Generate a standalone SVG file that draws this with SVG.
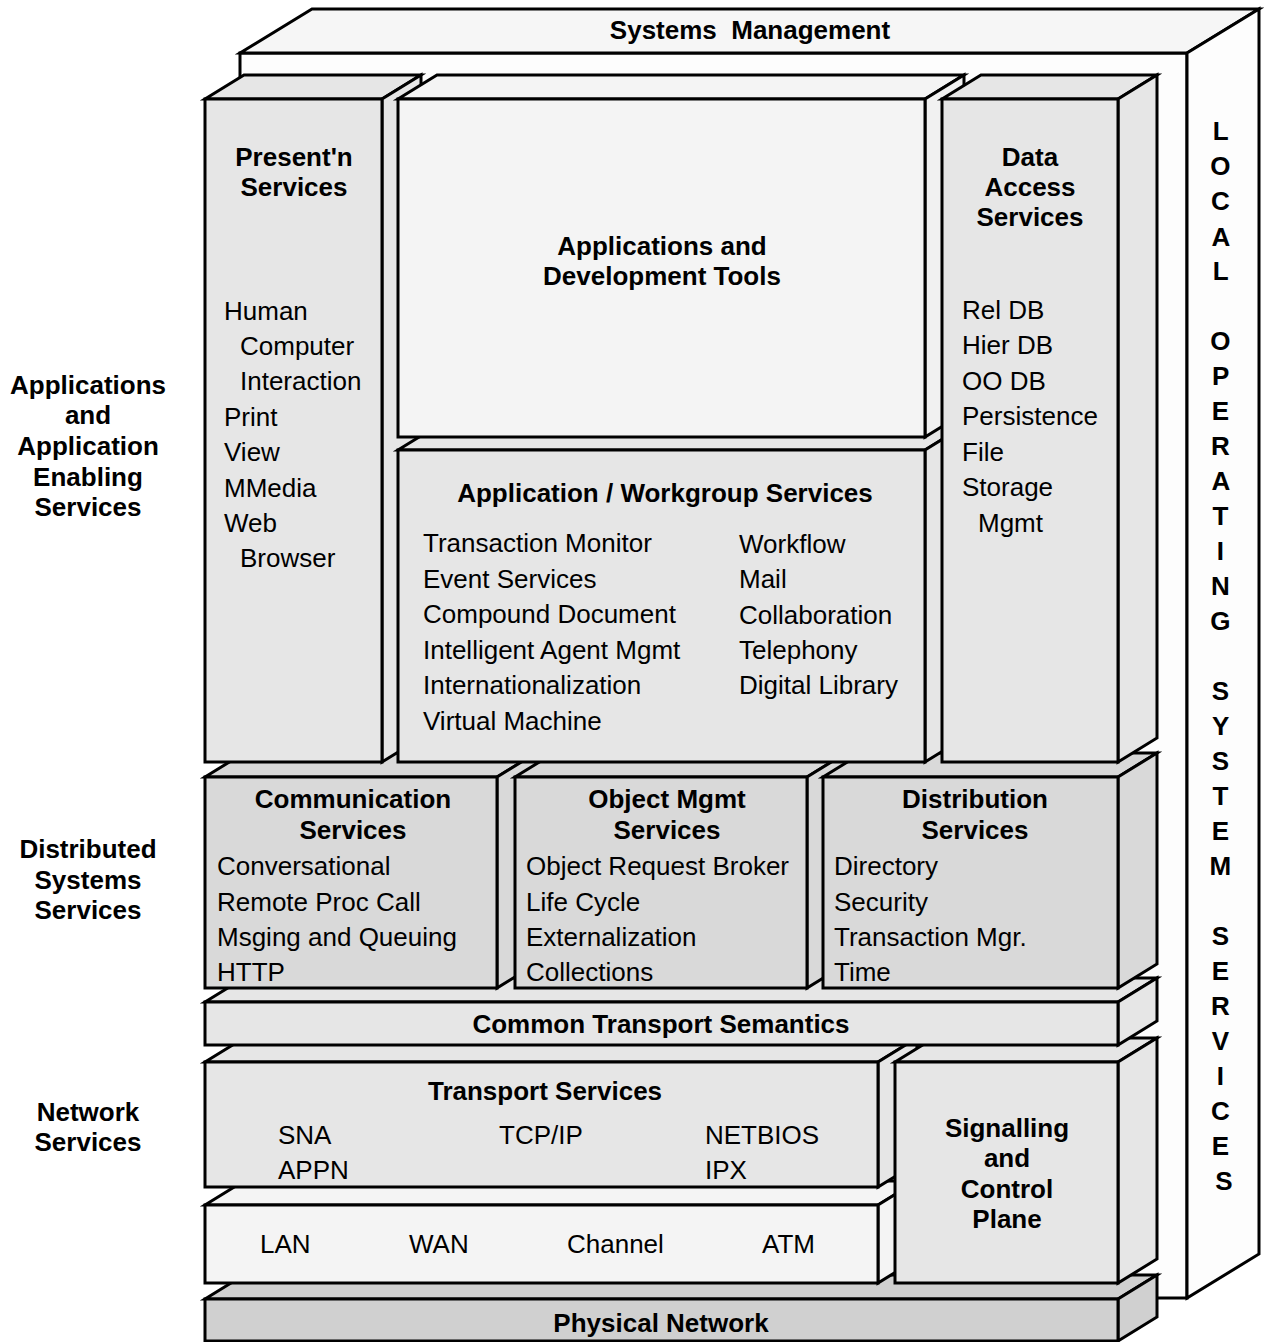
<svg xmlns="http://www.w3.org/2000/svg" width="1264" height="1342" viewBox="0 0 1264 1342">
  <style>
    .edge { stroke: #000; stroke-width: 3; stroke-linejoin: miter; }
    .frame { fill: #fdfdfd; }
    .frameTop { fill: #f6f6f6; }
    .mid { fill: #e6e6e6; }
    .pale { fill: #f4f4f4; }
    .paleSide { fill: #f1f1f1; }
    .dark { fill: #d9d9d9; }
    .darker { fill: #d0d0d0; }
    text { font-family: "Liberation Sans", Arial, sans-serif; font-size: 26px; fill: #000; }
    .h { font-weight: bold; text-anchor: middle; }
    .v { font-weight: bold; text-anchor: middle; }
  </style>
  <rect x="0" y="0" width="1264" height="1342" fill="#ffffff"/>

  <!-- Outer frame: systems management (top) and local OS services (right) -->
  <g id="frame">
    <rect class="frame edge" x="240" y="53" width="947" height="1245"/>
    <polygon class="frameTop edge" points="240,53 312,9 1259,9 1187,53"/>
    <polygon class="frame edge" points="1187,53 1259,9 1259,1254 1187,1298"/>
    <text class="h" x="750" y="39" xml:space="preserve" style="white-space:pre">Systems  Management</text>
    <text class="v">
      <tspan x="1224" y="140">L</tspan>
      <tspan x="1224" y="175">O</tspan>
      <tspan x="1224" y="210">C</tspan>
      <tspan x="1224" y="246">A</tspan>
      <tspan x="1224" y="280">L</tspan>
      <tspan x="1224" y="350">O</tspan>
      <tspan x="1224" y="385">P</tspan>
      <tspan x="1224" y="420">E</tspan>
      <tspan x="1224" y="455">R</tspan>
      <tspan x="1224" y="490">A</tspan>
      <tspan x="1224" y="525">T</tspan>
      <tspan x="1224" y="560">I</tspan>
      <tspan x="1224" y="595">N</tspan>
      <tspan x="1224" y="630">G</tspan>
      <tspan x="1224" y="700">S</tspan>
      <tspan x="1224" y="735">Y</tspan>
      <tspan x="1224" y="770">S</tspan>
      <tspan x="1224" y="805">T</tspan>
      <tspan x="1224" y="840">E</tspan>
      <tspan x="1224" y="875">M</tspan>
      <tspan x="1224" y="945">S</tspan>
      <tspan x="1224" y="980">E</tspan>
      <tspan x="1224" y="1015">R</tspan>
      <tspan x="1224" y="1050">V</tspan>
      <tspan x="1224" y="1085">I</tspan>
      <tspan x="1224" y="1120">C</tspan>
      <tspan x="1224" y="1155">E</tspan>
      <tspan x="1224" y="1190">S</tspan>
    </text>
  </g>

  <!-- Tier labels on the left -->
  <g id="tier-labels">
    <text class="h" x="88" y="394">Applications</text>
    <text class="h" x="88" y="424">and</text>
    <text class="h" x="88" y="455">Application</text>
    <text class="h" x="88" y="486">Enabling</text>
    <text class="h" x="88" y="516">Services</text>
    <text class="h" x="88" y="858">Distributed</text>
    <text class="h" x="88" y="889">Systems</text>
    <text class="h" x="88" y="919">Services</text>
    <text class="h" x="88" y="1121">Network</text>
    <text class="h" x="88" y="1151">Services</text>
  </g>

  <!-- Blocks, painted bottom-up and left-to-right -->
  <g id="physical-network">
    <polygon class="darker edge" points="205,1299 244,1275 1157,1275 1118,1299"/>
    <polygon class="darker edge" points="1118,1299 1157,1275 1157,1317 1118,1341"/>
    <rect class="darker edge" x="205" y="1299" width="913" height="42"/>
    <text class="h" x="661" y="1332">Physical Network</text>
  </g>

  <g id="links">
    <polygon class="pale edge" points="205,1205 244,1181 917,1181 878,1205"/>
    <polygon class="pale edge" points="878,1205 917,1181 917,1259 878,1283"/>
    <rect class="pale edge" x="205" y="1205" width="673" height="78"/>
    <text x="260" y="1253">LAN</text>
    <text x="409" y="1253">WAN</text>
    <text x="567" y="1253">Channel</text>
    <text x="762" y="1253">ATM</text>
  </g>

  <g id="transport-services">
    <polygon class="mid edge" points="205,1062 244,1038 917,1038 878,1062"/>
    <polygon class="mid edge" points="878,1062 917,1038 917,1163 878,1187"/>
    <rect class="mid edge" x="205" y="1062" width="673" height="125"/>
    <text class="h" x="545" y="1100">Transport Services</text>
    <text x="278" y="1144">SNA</text>
    <text x="278" y="1179">APPN</text>
    <text x="499" y="1144">TCP/IP</text>
    <text x="705" y="1144">NETBIOS</text>
    <text x="705" y="1179">IPX</text>
  </g>

  <g id="signalling-control">
    <polygon class="mid edge" points="895,1062 934,1038 1157,1038 1118,1062"/>
    <polygon class="mid edge" points="1118,1062 1157,1038 1157,1259 1118,1283"/>
    <rect class="mid edge" x="895" y="1062" width="223" height="221"/>
    <text class="h" x="1007" y="1137">Signalling</text>
    <text class="h" x="1007" y="1167">and</text>
    <text class="h" x="1007" y="1198">Control</text>
    <text class="h" x="1007" y="1228">Plane</text>
  </g>

  <g id="common-transport">
    <polygon class="mid edge" points="205,1002 244,978 1157,978 1118,1002"/>
    <polygon class="mid edge" points="1118,1002 1157,978 1157,1021 1118,1045"/>
    <rect class="mid edge" x="205" y="1002" width="913" height="43"/>
    <text class="h" x="661" y="1033">Common Transport Semantics</text>
  </g>

  <g id="communication-services">
    <polygon class="dark edge" points="205,777 244,753 536,753 497,777"/>
    <polygon class="dark edge" points="497,777 536,753 536,964 497,988"/>
    <rect class="dark edge" x="205" y="777" width="292" height="211"/>
    <text class="h" x="353" y="808">Communication</text>
    <text class="h" x="353" y="839">Services</text>
    <text x="217" y="875">Conversational</text>
    <text x="217" y="911">Remote Proc Call</text>
    <text x="217" y="946">Msging and Queuing</text>
    <text x="217" y="981">HTTP</text>
  </g>

  <g id="object-mgmt-services">
    <polygon class="dark edge" points="515,777 554,753 846,753 807,777"/>
    <polygon class="dark edge" points="807,777 846,753 846,964 807,988"/>
    <rect class="dark edge" x="515" y="777" width="292" height="211"/>
    <text class="h" x="667" y="808">Object Mgmt</text>
    <text class="h" x="667" y="839">Services</text>
    <text x="526" y="875">Object Request Broker</text>
    <text x="526" y="911">Life Cycle</text>
    <text x="526" y="946">Externalization</text>
    <text x="526" y="981">Collections</text>
  </g>

  <g id="distribution-services">
    <polygon class="dark edge" points="823,777 862,753 1157,753 1118,777"/>
    <polygon class="dark edge" points="1118,777 1157,753 1157,964 1118,988"/>
    <rect class="dark edge" x="823" y="777" width="295" height="211"/>
    <text class="h" x="975" y="808">Distribution</text>
    <text class="h" x="975" y="839">Services</text>
    <text x="834" y="875">Directory</text>
    <text x="834" y="911">Security</text>
    <text x="834" y="946">Transaction Mgr.</text>
    <text x="834" y="981">Time</text>
  </g>

  <g id="presentation-services">
    <polygon class="mid edge" points="205,99 244,75 421,75 382,99"/>
    <polygon class="mid edge" points="382,99 421,75 421,738 382,762"/>
    <rect class="mid edge" x="205" y="99" width="177" height="663"/>
    <text class="h" x="294" y="166">Present'n</text>
    <text class="h" x="294" y="196">Services</text>
    <text x="224" y="320">Human</text>
    <text x="240" y="355">Computer</text>
    <text x="240" y="390">Interaction</text>
    <text x="224" y="426">Print</text>
    <text x="224" y="461">View</text>
    <text x="224" y="497">MMedia</text>
    <text x="224" y="532">Web</text>
    <text x="240" y="567">Browser</text>
  </g>

  <g id="workgroup-services">
    <polygon class="mid edge" points="398,450 437,426 964,426 925,450"/>
    <polygon class="mid edge" points="925,450 964,426 964,738 925,762"/>
    <rect class="mid edge" x="398" y="450" width="527" height="312"/>
    <text class="h" x="665" y="502">Application / Workgroup Services</text>
    <text x="423" y="552">Transaction Monitor</text>
    <text x="423" y="588">Event Services</text>
    <text x="423" y="623">Compound Document</text>
    <text x="423" y="659">Intelligent Agent Mgmt</text>
    <text x="423" y="694">Internationalization</text>
    <text x="423" y="730">Virtual Machine</text>
    <text x="739" y="553">Workflow</text>
    <text x="739" y="588">Mail</text>
    <text x="739" y="624">Collaboration</text>
    <text x="739" y="659">Telephony</text>
    <text x="739" y="694">Digital Library</text>
  </g>

  <g id="applications-tools">
    <polygon class="pale edge" points="398,99 437,75 964,75 925,99"/>
    <polygon class="paleSide edge" points="925,99 964,75 964,413 925,437"/>
    <rect class="pale edge" x="398" y="99" width="527" height="338"/>
    <text class="h" x="662" y="255">Applications and</text>
    <text class="h" x="662" y="285">Development Tools</text>
  </g>

  <g id="data-access-services">
    <polygon class="mid edge" points="942,99 981,75 1157,75 1118,99"/>
    <polygon class="mid edge" points="1118,99 1157,75 1157,738 1118,762"/>
    <rect class="mid edge" x="942" y="99" width="176" height="663"/>
    <text class="h" x="1030" y="166">Data</text>
    <text class="h" x="1030" y="196">Access</text>
    <text class="h" x="1030" y="226">Services</text>
    <text x="962" y="319">Rel DB</text>
    <text x="962" y="354">Hier DB</text>
    <text x="962" y="390">OO DB</text>
    <text x="962" y="425">Persistence</text>
    <text x="962" y="461">File</text>
    <text x="962" y="496">Storage</text>
    <text x="978" y="532">Mgmt</text>
  </g>
</svg>
